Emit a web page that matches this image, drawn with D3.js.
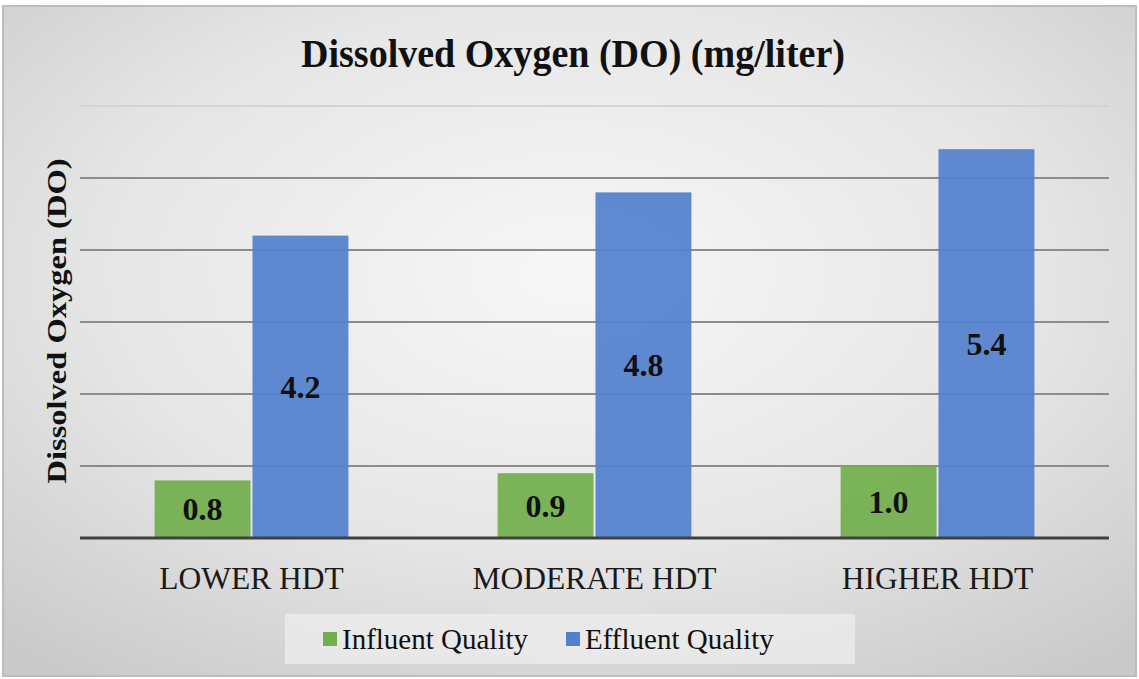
<!DOCTYPE html>
<html>
<head>
<meta charset="utf-8">
<script src="https://cdn.jsdelivr.net/npm/d3@7"></script>
<style>
  body { margin: 0; background: #fff; }
  text { font-family: "Liberation Serif", "Times New Roman", serif; }
</style>
</head>
<body>
<svg id="vis" width="1139" height="679"></svg>
<script>
const svg = d3.select("#vis");

const CATEGORIES = ["LOWER HDT", "MODERATE HDT", "HIGHER HDT"];
const SERIES = ["Influent Quality", "Effluent Quality"];
const INFLUENT = [0.8, 0.9, 1.0];
const EFFLUENT = [4.2, 4.8, 5.4];
const Y_TICKS = [0, 1, 2, 3, 4, 5, 6];
const COLORS = ["#72ae4c", "#5380cc"];

const W = 1139, H = 679;
const plot = {left: 80, right: 1109, top: 106, bottom: 538};

// background: gray frame + radial gradient
const defs = svg.append("defs");
const grad = defs.append("radialGradient").attr("id", "bg")
    .attr("cx", "50%").attr("cy", "40%").attr("r", "75%");
grad.append("stop").attr("offset", "0%").attr("stop-color", "#f7f7f7");
grad.append("stop").attr("offset", "55%").attr("stop-color", "#e6e6e6");
grad.append("stop").attr("offset", "100%").attr("stop-color", "#c9c9c9");

svg.append("rect").attr("width", W).attr("height", H).attr("fill", "#ffffff");
svg.append("rect").attr("x", 3).attr("y", 6).attr("width", W - 6).attr("height", H - 9)
    .attr("fill", "url(#bg)").attr("stroke", "#bdbdbd").attr("stroke-width", 2);

const x0 = d3.scaleBand().domain(CATEGORIES).range([plot.left, plot.right]).paddingInner(0.435).paddingOuter(0.2175);
const x1 = d3.scaleBand().domain(SERIES).range([0, x0.bandwidth()]).paddingInner(0.02);
const y = d3.scaleLinear().domain([0, 6]).range([plot.bottom, plot.top]);

// gridlines
svg.append("g").selectAll("line").data(Y_TICKS.slice(1)).join("line")
    .attr("x1", plot.left).attr("x2", plot.right)
    .attr("y1", d => y(d)).attr("y2", d => y(d))
    .attr("stroke", d => d === 6 ? "#d4d4d4" : "#8c8c8c")
    .attr("stroke-width", 2);

const rows = CATEGORIES.map((c, i) => ({cat: c, vals: [INFLUENT[i], EFFLUENT[i]]}));

const groups = svg.append("g").selectAll("g").data(rows).join("g")
    .attr("transform", d => `translate(${x0(d.cat)},0)`);

groups.selectAll("rect").data(d => d.vals.map((v, j) => ({s: SERIES[j], v: v, j: j}))).join("rect")
    .attr("x", d => x1(d.s))
    .attr("y", d => y(d.v))
    .attr("width", x1.bandwidth())
    .attr("height", d => y(0) - y(d.v))
    .attr("fill", d => COLORS[d.j])
    .attr("fill-opacity", 0.93);

groups.selectAll("text.val").data(d => d.vals.map((v, j) => ({s: SERIES[j], v: v}))).join("text")
    .attr("class", "val")
    .attr("x", d => x1(d.s) + x1.bandwidth() / 2)
    .attr("y", d => (y(d.v) + y(0)) / 2)
    .attr("dy", "0.35em")
    .attr("text-anchor", "middle")
    .attr("font-size", 32).attr("font-weight", "bold").attr("fill", "#111")
    .text(d => d.v.toFixed(1));

// baseline
svg.append("line").attr("x1", plot.left).attr("x2", plot.right)
    .attr("y1", y(0)).attr("y2", y(0))
    .attr("stroke", "#404040").attr("stroke-width", 3);

// category axis labels
svg.append("g").selectAll("text").data(CATEGORIES).join("text")
    .attr("x", d => x0(d) + x0.bandwidth() / 2)
    .attr("y", 589)
    .attr("text-anchor", "middle")
    .attr("font-size", 31.5).attr("fill", "#1a1a1a")
    .text(d => d);

// title
svg.append("text").attr("x", 573).attr("y", 67)
    .attr("text-anchor", "middle")
    .attr("font-size", 40).attr("font-weight", "bold").attr("fill", "#111")
    .attr("textLength", 544).attr("lengthAdjust", "spacingAndGlyphs")
    .text("Dissolved Oxygen (DO) (mg/liter)");

// y axis title
svg.append("text")
    .attr("transform", "translate(66,321) rotate(-90)")
    .attr("text-anchor", "middle")
    .attr("font-size", 27).attr("font-weight", "bold").attr("fill", "#111")
    .attr("textLength", 325).attr("lengthAdjust", "spacingAndGlyphs")
    .text("Dissolved Oxygen (DO)");

// legend
const lg = svg.append("g");
lg.append("rect").attr("x", 285).attr("y", 614).attr("width", 570).attr("height", 50)
    .attr("fill", "#ebebeb").attr("fill-opacity", 0.85);
const legX = [323, 566];
SERIES.forEach((s, i) => {
  lg.append("rect").attr("x", legX[i]).attr("y", 632).attr("width", 14).attr("height", 14)
      .attr("fill", COLORS[i]);
  lg.append("text").attr("x", legX[i] + 19).attr("y", 649)
      .attr("font-size", 29).attr("fill", "#111")
      .text(s);
});
</script>
</body>
</html>
